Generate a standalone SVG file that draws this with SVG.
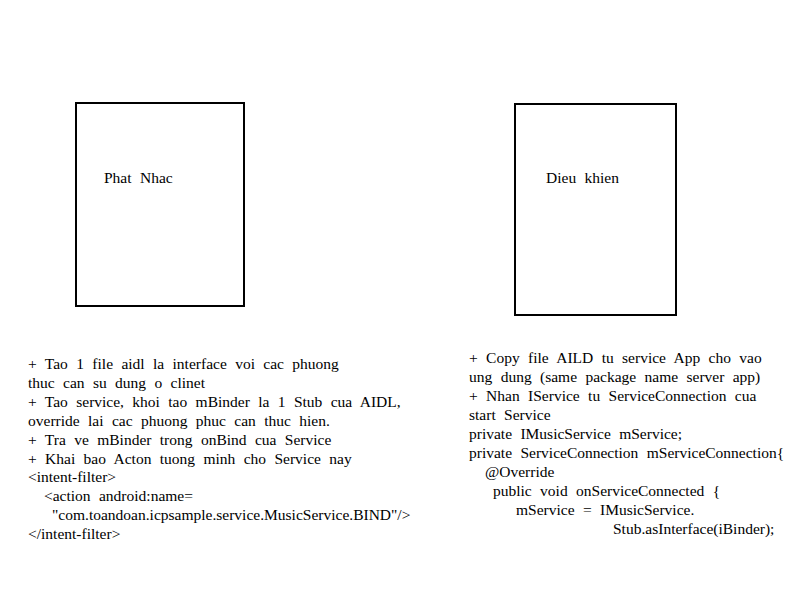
<svg xmlns="http://www.w3.org/2000/svg" width="800" height="600" viewBox="0 0 800 600">
<style>
.box{fill:#fff;stroke:#000;stroke-width:2}
text{font-family:"Liberation Serif","Times New Roman",serif;font-size:15.5px;fill:#000;word-spacing:4.5px}
</style>
<rect width="800" height="600" fill="#fff"/>
<g id="node-phat-nhac">
<rect class="box" x="76" y="103" width="168" height="203"/>
<text x="104" y="183">Phat Nhac</text>
</g>
<g id="node-dieu-khien">
<rect class="box" x="515" y="104" width="161" height="211"/>
<text x="546" y="183">Dieu khien</text>
</g>
<g id="connectors"></g>
<g id="notes-left">
<text x="28" y="369">+ Tao 1 file aidl la interface voi cac phuong</text>
<text x="28" y="388">thuc can su dung o clinet</text>
<text x="28" y="407">+ Tao service, khoi tao mBinder la 1 Stub cua AIDL,</text>
<text x="28" y="426">override lai cac phuong phuc can thuc hien.</text>
<text x="28" y="445">+ Tra ve mBinder trong onBind cua Service</text>
<text x="28" y="464">+ Khai bao Acton tuong minh cho Service nay</text>
<text x="28" y="482">&lt;intent-filter&gt;</text>
<text x="44" y="501">&lt;action android:name=</text>
<text x="52" y="520">"com.toandoan.icpsample.service.MusicService.BIND"/&gt;</text>
<text x="28" y="539">&lt;/intent-filter&gt;</text>
</g>
<g id="notes-right">
<text x="469" y="363">+ Copy file AILD tu service App cho vao</text>
<text x="469" y="382">ung dung (same package name server app)</text>
<text x="469" y="401">+ Nhan IService tu ServiceConnection cua</text>
<text x="469" y="420">start Service</text>
<text x="469" y="439">private IMusicService mService;</text>
<text x="469" y="458">private ServiceConnection mServiceConnection{</text>
<text x="485" y="477">@Override</text>
<text x="493" y="496">public void onServiceConnected {</text>
<text x="516" y="515">mService = IMusicService.</text>
<text x="613" y="534">Stub.asInterface(iBinder);</text>
</g>
</svg>
